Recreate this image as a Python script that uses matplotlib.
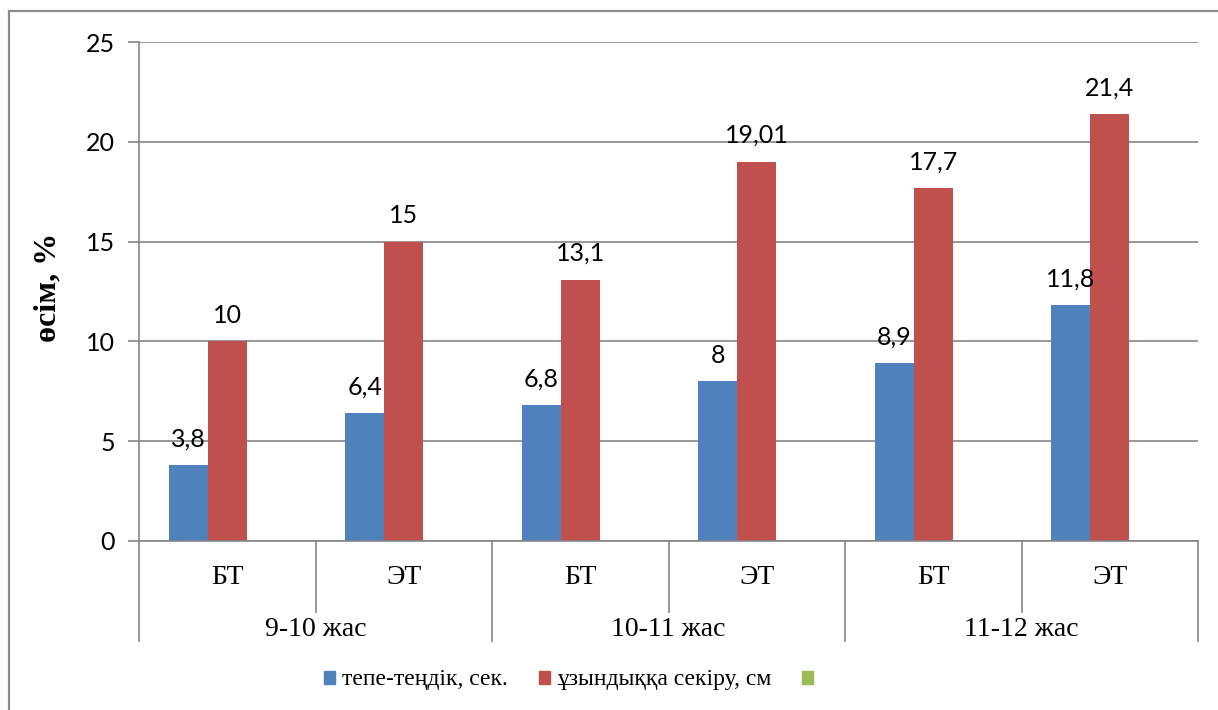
"""Grouped bar chart: growth (%) of balance and long jump by age group."""

import matplotlib
matplotlib.use("Agg")

import matplotlib.pyplot as plt
import matplotlib.patches as mpatches
import matplotlib.transforms as mtransforms
import numpy as np

# ── data ────────────────────────────────────────────────────────────────
groups = ["9-10 жас", "10-11 жас", "11-12 жас"]
subgroups = ["БТ", "ЭТ", "БТ", "ЭТ", "БТ", "ЭТ"]
balance = [3.8, 6.4, 6.8, 8, 8.9, 11.8]
jump = [10, 15, 13.1, 19.01, 17.7, 21.4]
series_names = ["тепе-теңдік, сек.", "ұзындыққа секіру, см", ""]
yticks = [0, 5, 10, 15, 20, 25]

BLUE, RED, GREEN = "#4F81BD", "#C0504D", "#9BBB59"
GRID = "#868686"
SERIF = "Liberation Serif"
SANS = "Lato"

W, H = 1218, 710
fig = plt.figure(figsize=(W / 100, H / 100), dpi=100)
fig.patch.set_facecolor("white")

# outer chart frame (only top/left edges fall inside the image)
frame = mpatches.Rectangle((9 / W, -0.1), 1.2, (H - 11) / H + 0.1,
                           transform=fig.transFigure, fill=False,
                           edgecolor="#8C8C8C", linewidth=1.6)
fig.patches.append(frame)

ax = fig.add_axes([139 / W, (H - 541) / H, 1059 / W, 499 / H])

x = np.arange(len(subgroups))
w = 0.221
b1 = ax.bar(x - w, balance, w, color=BLUE, label=series_names[0])
b2 = ax.bar(x, jump, w, color=RED, label=series_names[1])


def fmt(v):
    return f"{v:g}".replace(".", ",")


ax.bar_label(b1, labels=[fmt(v) for v in balance], padding=10.5,
             fontsize=18, family=SANS)
ax.bar_label(b2, labels=[fmt(v) for v in jump], padding=10.5,
             fontsize=18, family=SANS)

ax.set_xlim(-0.5, len(subgroups) - 0.5)
ax.set_ylim(0, 25)
ax.set_yticks(yticks)
ax.set_yticklabels([str(t) for t in yticks], fontsize=18, family=SANS)
ax.tick_params(axis="y", length=8, color=GRID, width=1.2, pad=9.5)
ax.tick_params(axis="x", length=0, labelbottom=False)
ax.grid(axis="y", color=GRID, linewidth=1.2)
ax.set_axisbelow(True)
for side in ["top", "right"]:
    ax.spines[side].set_visible(False)
for side in ["left", "bottom"]:
    ax.spines[side].set_color(GRID)
    ax.spines[side].set_linewidth(1.2)

fig.text(48 / W, 1 - 287 / H, "өсім, %", rotation=90, ha="center",
         va="center", fontsize=23, fontweight="bold", family=SERIF)

# two-level category axis
trans = mtransforms.blended_transform_factory(ax.transData, ax.transAxes)
inner_depth = -71 / 499
outer_depth = -100 / 499
for i in range(len(subgroups) + 1):
    xb = i - 0.5
    depth = outer_depth if i % 2 == 0 else inner_depth
    ax.plot([xb, xb], [0, depth], transform=trans, color=GRID,
            linewidth=1.2, clip_on=False)

for i, lab in enumerate(subgroups):
    ax.text(i, -36 / 499, lab, transform=trans, ha="center", va="center",
            fontsize=20, family=SERIF)
for j, lab in enumerate(groups):
    ax.text(2 * j + 0.5, -88 / 499, lab, transform=trans, ha="center",
            va="center", fontsize=20, family=SERIF)

# legend
handles = [mpatches.Patch(color=c, label=n)
           for c, n in zip([BLUE, RED, GREEN], series_names)]
fig.legend(handles=handles, loc="center", bbox_to_anchor=(572 / W, 1 - 680 / H),
           ncol=3, frameon=False, handlelength=0.47, handleheight=0.47,
           handletextpad=0.3, columnspacing=1.3,
           prop={"family": SERIF, "size": 17})

fig.savefig("out.png", dpi=100, facecolor="white")
